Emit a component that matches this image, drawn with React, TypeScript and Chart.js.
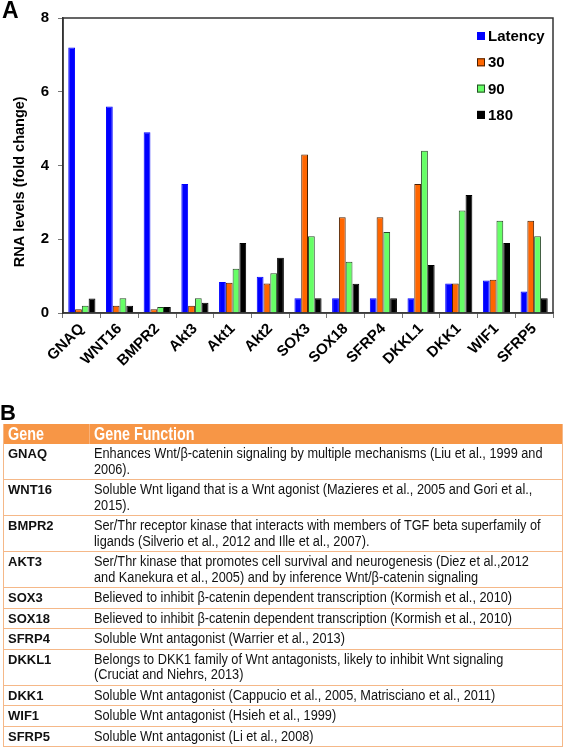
import React, { useEffect, useRef } from "react";
import { Chart, registerables } from "chart.js";
Chart.register(...registerables);

const categories = ["GNAQ", "WNT16", "BMPR2", "Akt3", "Akt1", "Akt2", "SOX3", "SOX18", "SFRP4", "DKKL1", "DKK1", "WIF1", "SFRP5"];
const latency = [7.2, 5.6, 4.9, 3.5, 0.84, 0.98, 0.4, 0.4, 0.4, 0.4, 0.8, 0.88, 0.58];
const min30 = [0.1, 0.2, 0.1, 0.2, 0.82, 0.8, 4.3, 2.6, 2.6, 3.5, 0.8, 0.9, 2.5];
const min90 = [0.2, 0.4, 0.16, 0.4, 1.2, 1.08, 2.08, 1.39, 2.2, 4.4, 2.78, 2.5, 2.08];
const min180 = [0.39, 0.2, 0.16, 0.28, 1.9, 1.5, 0.4, 0.79, 0.4, 1.3, 3.2, 1.9, 0.4];
const seriesLabels = ["Latency", "30", "90", "180"];
const seriesColors = ["#0000ff", "#ff6600", "#66ff66", "#000000"];
const seriesBorders = ["#0000ff", "#4a2000", "#2a4a2a", "#000000"];
const yMin = 0;
const yMax = 8;
const yStep = 2;
const yTitle = "RNA levels (fold change)";

const tableHeader = ["Gene", "Gene Function"];
const tableGenes = ["GNAQ", "WNT16", "BMPR2", "AKT3", "SOX3", "SOX18", "SFRP4", "DKKL1", "DKK1", "WIF1", "SFRP5"];
const tableFunctions = [
  ["Enhances Wnt/β-catenin signaling by multiple mechanisms (Liu et al., 1999 and", "2006)."],
  ["Soluble Wnt ligand that is a Wnt agonist (Mazieres et al., 2005 and Gori et al.,", "2015)."],
  ["Ser/Thr receptor kinase that interacts with members of TGF beta superfamily of", "ligands (Silverio et al., 2012 and Ille et al., 2007)."],
  ["Ser/Thr kinase that promotes cell survival and neurogenesis (Diez et al.,2012", "and Kanekura et al., 2005) and by inference Wnt/β-catenin signaling"],
  ["Believed to inhibit β-catenin dependent transcription (Kormish et al., 2010)"],
  ["Believed to inhibit β-catenin dependent transcription (Kormish et al., 2010)"],
  ["Soluble Wnt antagonist (Warrier et al., 2013)"],
  ["Belongs to DKK1 family of Wnt antagonists, likely to inhibit Wnt signaling", "(Cruciat and Niehrs, 2013)"],
  ["Soluble Wnt antagonist (Cappucio et al., 2005, Matrisciano et al., 2011)"],
  ["Soluble Wnt antagonist (Hsieh et al., 1999)"],
  ["Soluble Wnt antagonist (Li et al., 2008)"],
];

const FONT = '"Liberation Sans", Arial, sans-serif';

const framePlugin = {
  id: "frameLegendTitle",
  afterDatasetsDraw(chart: any) {
    const { ctx, chartArea } = chart;
    ctx.save();
    ctx.strokeStyle = "#333";
    ctx.lineWidth = 1.5;
    ctx.strokeRect(chartArea.left, chartArea.top, chartArea.right - chartArea.left, chartArea.bottom - chartArea.top);
    ctx.font = "bold 15px " + FONT;
    ctx.textBaseline = "middle";
    ctx.textAlign = "left";
    chart.data.datasets.forEach((ds: any, i: number) => {
      const x = chartArea.right - 76;
      const y = chartArea.top + 18 + i * 26.3;
      ctx.fillStyle = ds.backgroundColor;
      ctx.fillRect(x, y - 4, 8, 8);
      ctx.strokeStyle = ds.borderColor;
      ctx.lineWidth = 1;
      ctx.strokeRect(x + 0.5, y - 3.5, 7, 7);
      ctx.fillStyle = "#000";
      ctx.fillText(ds.label, x + 11, y + 1);
    });
    ctx.translate(20, chartArea.top + (chartArea.bottom - chartArea.top) * 0.555);
    ctx.rotate(-Math.PI / 2);
    ctx.textAlign = "center";
    ctx.font = "bold 14.5px " + FONT;
    ctx.fillStyle = "#000";
    ctx.fillText(yTitle, 0, 0);
    ctx.restore();
  },
};

function BarChart() {
  const ref = useRef<HTMLCanvasElement | null>(null);
  useEffect(() => {
    if (!ref.current) return;
    const seriesData = [latency, min30, min90, min180];
    const chart = new Chart(ref.current, {
      type: "bar",
      data: {
        labels: categories,
        datasets: seriesLabels.map((label, i) => ({
          label,
          data: seriesData[i],
          backgroundColor: seriesColors[i],
          borderColor: seriesBorders[i],
          borderWidth: 1,
          barPercentage: 1,
          categoryPercentage: 0.72,
        })),
      },
      options: {
        animation: false,
        responsive: true,
        maintainAspectRatio: false,
        layout: { padding: { top: 9, right: 13, left: 0, bottom: 0 } },
        plugins: { legend: { display: false }, tooltip: { enabled: false } },
        scales: {
          x: {
            afterFit: (s: any) => { s.height = 72; },
            grid: { display: true, drawOnChartArea: false, drawTicks: true, tickLength: 5, color: "#777", offset: true },
            border: { display: true, color: "#555", width: 1.5 },
            ticks: {
              autoSkip: false,
              maxRotation: 45,
              minRotation: 45,
              padding: 2,
              color: "#000",
              font: { family: FONT, size: 15, weight: "bold" },
            },
          },
          y: {
            min: yMin,
            max: yMax,
            afterFit: (s: any) => { s.width = 63; },
            grid: { display: true, drawOnChartArea: false, drawTicks: true, tickLength: 5, color: "#777" },
            border: { display: true, color: "#333", width: 1.5 },
            ticks: {
              stepSize: yStep,
              padding: 9,
              color: "#000",
              font: { family: FONT, size: 15, weight: "bold" },
            },
          },
        },
      },
      plugins: [framePlugin],
    } as any);
    return () => chart.destroy();
  }, []);
  return (
    <div style={{ position: "absolute", left: 0, top: 0, width: 566, height: 385 }}>
      <canvas ref={ref} />
    </div>
  );
}

const narrow = (scale: number): React.CSSProperties => ({
  display: "inline-block",
  transform: `scaleX(${scale})`,
  transformOrigin: "left center",
  whiteSpace: "nowrap",
});

function GeneTable() {
  const borderC = "#f5b888";
  return (
    <div
      style={{
        position: "absolute",
        left: 3,
        top: 424,
        width: 560,
        border: `1.5px solid ${borderC}`,
        borderTop: "none",
        boxSizing: "border-box",
        color: "#111",
        fontFamily: FONT,
      }}
    >
      <div
        style={{
          display: "flex",
          height: 20,
          background: "#f79646",
          color: "#fff",
          fontWeight: "bold",
          fontSize: 17.5,
          lineHeight: "20px",
        }}
      >
        <div style={{ width: 86, flexShrink: 0, paddingLeft: 4, boxSizing: "border-box", borderRight: "1px solid #f9b27a" }}>
          <span style={narrow(0.82)}>{tableHeader[0]}</span>
        </div>
        <div style={{ paddingLeft: 4 }}>
          <span style={narrow(0.82)}>{tableHeader[1]}</span>
        </div>
      </div>
      {tableGenes.map((g, i) => (
        <div
          key={g}
          style={{
            display: "flex",
            borderBottom: i === tableGenes.length - 1 ? "none" : `1px solid ${borderC}`,
            padding: "2px 0 2px",
            lineHeight: "15.5px",
          }}
        >
          <div style={{ width: 87, flexShrink: 0, paddingLeft: 4, boxSizing: "border-box", fontWeight: "bold", fontSize: 13 }}>{g}</div>
          <div style={{ paddingLeft: 3, fontSize: 14 }}>
            {tableFunctions[i].map((line, j) => (
              <div key={j} style={{ whiteSpace: "nowrap" }}>
                <span style={narrow(0.91)}>{line}</span>
              </div>
            ))}
          </div>
        </div>
      ))}
    </div>
  );
}

export default function App() {
  useEffect(() => {
    document.body.style.margin = "0";
  }, []);
  return (
    <div style={{ position: "relative", width: 566, height: 754, background: "#fff", fontFamily: FONT, overflow: "hidden" }}>
      <BarChart />
      <div style={{ position: "absolute", left: 2, top: -1, fontWeight: "bold", fontSize: 23, lineHeight: "23px" }}>A</div>
      <div style={{ position: "absolute", left: 0, top: 402, fontWeight: "bold", fontSize: 22, lineHeight: "22px" }}>B</div>
      <GeneTable />
    </div>
  );
}
